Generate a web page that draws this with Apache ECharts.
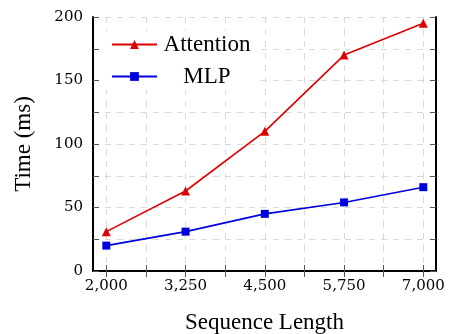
<!DOCTYPE html>
<html>
<head>
<meta charset="utf-8">
<script src="https://cdn.jsdelivr.net/npm/echarts@6/dist/echarts.min.js"></script>
<style>html,body{margin:0;padding:0;background:#fff;}#c{width:449px;height:334px;}</style>
</head>
<body>
<div id="c"></div>
<script>
var seqLengths = [2000, 3250, 4500, 5750, 7000];
var attentionMs = [31, 63, 110, 170, 195];
var mlpMs = [20, 31, 45, 54, 66];
var xTickValues = [2000, 2625, 3250, 3875, 4500, 5125, 5750, 6375, 7000];
var xLabelValues = [2000, 3250, 4500, 5750, 7000];
var yLabelValues = [0, 50, 100, 150, 200];

var serif = 'Liberation Serif';
var tickFont = 'DejaVu Serif';

function pairs(xs, ys) { return xs.map(function (x, i) { return [x, ys[i]]; }); }
function fmt(v) { return String(v).replace(/\B(?=(\d{3})+(?!\d))/g, ','); }

var chart = echarts.init(document.getElementById('c'), null, {renderer: 'canvas'});
var axisLine = {show: true, lineStyle: {color: '#000', width: 2}};
var tick = {show: true, inside: true, length: 6, lineStyle: {color: '#555', width: 1}};
var split = {show: true, lineStyle: {color: '#d9d9d9', type: [6, 6], width: 1}};

chart.setOption({
  animation: false,
  backgroundColor: '#fff',
  grid: {left: 93, right: 13, top: 17, bottom: 63, containLabel: false, outerBoundsMode: 'none'},
  legend: {
    orient: 'vertical', left: 103, top: 31,
    backgroundColor: '#fff', padding: [2, 4, 2, 8],
    itemWidth: 45, itemHeight: 11, itemGap: 9,
    data: ['Attention', 'MLP'],
    formatter: function (n) { return '{t|' + n + '}'; },
    textStyle: {
      rich: {t: {width: 90, align: 'center', fontFamily: serif, fontSize: 23, color: '#000', lineHeight: 26}}
    }
  },
  xAxis: [{
    type: 'value', min: 1790, max: 7200, position: 'bottom',
    axisLine: axisLine,
    axisTick: Object.assign({customValues: xTickValues}, tick),
    splitLine: split,
    axisLabel: {customValues: xLabelValues, formatter: fmt, fontFamily: tickFont, fontSize: 15, color: '#000', margin: 8},
    name: 'Sequence Length', nameLocation: 'middle', nameGap: 40,
    nameTextStyle: {fontFamily: serif, fontSize: 23, color: '#000'}
  }, {
    type: 'value', min: 1790, max: 7200, position: 'top',
    axisLine: axisLine,
    axisTick: Object.assign({customValues: xTickValues}, tick),
    splitLine: {show: false}, axisLabel: {show: false}
  }],
  yAxis: [{
    type: 'value', min: 0, max: 200, interval: 25, position: 'left',
    axisLine: axisLine, axisTick: tick, splitLine: split,
    axisLabel: {customValues: yLabelValues, fontFamily: tickFont, fontSize: 15, color: '#000', margin: 10},
    name: 'Time (ms)', nameLocation: 'middle', nameGap: 58,
    nameTextStyle: {fontFamily: serif, fontSize: 23, color: '#000'}
  }, {
    type: 'value', min: 0, max: 200, interval: 25, position: 'right',
    axisLine: axisLine, axisTick: tick, splitLine: {show: false}, axisLabel: {show: false}
  }],
  series: [{
    name: 'Attention', type: 'line', data: pairs(seqLengths, attentionMs),
    symbol: 'triangle', symbolSize: 9, showAllSymbol: true,
    lineStyle: {color: '#dd0000', width: 1.6}, itemStyle: {color: '#dd0000'}
  }, {
    name: 'MLP', type: 'line', data: pairs(seqLengths, mlpMs),
    symbol: 'rect', symbolSize: 8, showAllSymbol: true,
    lineStyle: {color: '#0000dd', width: 1.6}, itemStyle: {color: '#0000dd'}
  }]
});
</script>
</body>
</html>
